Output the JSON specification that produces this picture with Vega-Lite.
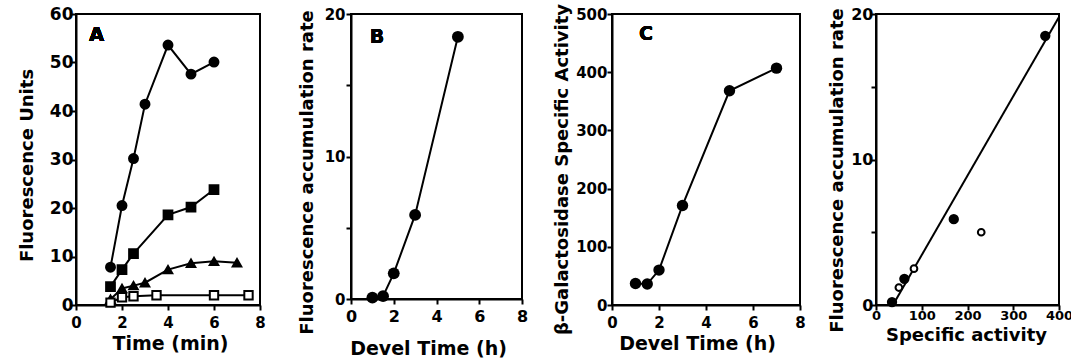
{
  "$schema": "https://vega.github.io/schema/vega-lite/v6.json",
  "padding": {"left": 17, "top": 2, "right": 0, "bottom": 2},
  "background": "white",
  "datasets": {
    "a": [
      {"s": "filled circle", "t": 1.5, "f": 7.8},
      {"s": "filled circle", "t": 2, "f": 20.5},
      {"s": "filled circle", "t": 2.5, "f": 30.2},
      {"s": "filled circle", "t": 3, "f": 41.4},
      {"s": "filled circle", "t": 4, "f": 53.6},
      {"s": "filled circle", "t": 5, "f": 47.6},
      {"s": "filled circle", "t": 6, "f": 50.1},
      {"s": "filled square", "t": 1.5, "f": 3.8},
      {"s": "filled square", "t": 2, "f": 7.3},
      {"s": "filled square", "t": 2.5, "f": 10.6},
      {"s": "filled square", "t": 4, "f": 18.6},
      {"s": "filled square", "t": 5, "f": 20.2},
      {"s": "filled square", "t": 6, "f": 23.8},
      {"s": "filled triangle", "t": 1.5, "f": 1.2},
      {"s": "filled triangle", "t": 2, "f": 3.4},
      {"s": "filled triangle", "t": 2.5, "f": 4.0},
      {"s": "filled triangle", "t": 3, "f": 4.6},
      {"s": "filled triangle", "t": 4, "f": 7.3},
      {"s": "filled triangle", "t": 5, "f": 8.6},
      {"s": "filled triangle", "t": 6, "f": 9.0},
      {"s": "filled triangle", "t": 7, "f": 8.7},
      {"s": "open square", "t": 1.5, "f": 0.5},
      {"s": "open square", "t": 2, "f": 1.6},
      {"s": "open square", "t": 2.5, "f": 1.8},
      {"s": "open square", "t": 3.5, "f": 2.0},
      {"s": "open square", "t": 6, "f": 2.0},
      {"s": "open square", "t": 7.5, "f": 2.0}
    ],
    "b": [
      {"h": 1, "rate": 0.1},
      {"h": 1.5, "rate": 0.2},
      {"h": 2, "rate": 1.8},
      {"h": 3, "rate": 5.9},
      {"h": 5, "rate": 18.4}
    ],
    "c": [
      {"h": 1, "act": 37},
      {"h": 1.5, "act": 36},
      {"h": 2, "act": 60},
      {"h": 3, "act": 171},
      {"h": 5, "act": 368},
      {"h": 7, "act": 407}
    ],
    "d": [
      {"kind": "filled", "act": 35, "rate": 0.2},
      {"kind": "filled", "act": 62, "rate": 1.8},
      {"kind": "filled", "act": 170, "rate": 5.9},
      {"kind": "filled", "act": 370, "rate": 18.5},
      {"kind": "open", "act": 50, "rate": 1.2},
      {"kind": "open", "act": 83, "rate": 2.5},
      {"kind": "open", "act": 230, "rate": 5.0}
    ],
    "dfit": [
      {"act": 37, "rate": 0},
      {"act": 400, "rate": 19.8}
    ]
  },
  "config": {
    "view": {"stroke": "black", "strokeWidth": 2},
    "axis": {
      "grid": false,
      "domainColor": "black",
      "domainWidth": 2,
      "tickColor": "black",
      "tickWidth": 2,
      "tickSize": 5,
      "labelFont": "DejaVu Sans",
      "labelFontWeight": "bold",
      "labelFontSize": 16,
      "labelColor": "black",
      "labelOverlap": false,
      "labelFlush": false,
      "titleFont": "DejaVu Sans",
      "titleFontWeight": "bold",
      "titleFontSize": 18,
      "titleColor": "black",
      "titleBaseline": "alphabetic"
    },
    "axisX": {"titleFontSize": 19}
  },
  "spacing": 0,
  "bounds": "flush",
  "resolve": {"scale": {"x": "independent", "y": "independent", "fill": "independent", "size": "independent", "shape": "independent"}},
  "hconcat": [
    {
      "width": 184,
      "height": 291,
      "data": {"name": "a"},
      "layer": [
        {
          "mark": {"type": "line", "color": "black", "strokeWidth": 2},
          "encoding": {
            "x": {"field": "t", "type": "quantitative", "scale": {"domain": [0, 8]},
              "axis": {"title": "Time (min)", "values": [0,1,2,3,4,5,6,7,8], "labelExpr": "datum.value % 2 == 0 ? datum.label : ''", "labelFontSize": 15, "labelPadding": 5, "titleX": 94, "titleY": 44}},
            "y": {"field": "f", "type": "quantitative", "scale": {"domain": [0, 60]},
              "axis": {"title": "Fluorescence Units", "values": [0,5,10,15,20,25,30,35,40,45,50,55,60], "labelExpr": "datum.value % 10 == 0 ? datum.label : ''", "labelFontSize": 17, "labelPadding": -2, "titleX": -44, "titleY": 151}},
            "detail": {"field": "s"}
          }
        },
        {
          "mark": {"type": "point", "filled": true, "stroke": "black", "strokeWidth": 2, "opacity": 1},
          "encoding": {
            "x": {"field": "t", "type": "quantitative"},
            "y": {"field": "f", "type": "quantitative"},
            "shape": {"field": "s", "type": "nominal", "legend": null,
              "scale": {"domain": ["filled circle", "filled square", "filled triangle", "open square"], "range": ["circle", "square", "triangle-up", "square"]}},
            "fill": {"field": "s", "type": "nominal", "legend": null,
              "scale": {"domain": ["filled circle", "filled square", "filled triangle", "open square"], "range": ["black", "black", "black", "white"]}},
            "size": {"field": "s", "type": "nominal", "legend": null,
              "scale": {"domain": ["filled circle", "filled square", "filled triangle", "open square"], "range": [80, 70, 115, 55]}}
          }
        },
        {
          "mark": {"type": "text", "font": "DejaVu Sans", "fontWeight": "bold", "fontSize": 19, "color": "black"},
          "encoding": {"x": {"datum": 0.9}, "y": {"datum": 55.6}, "text": {"value": "A"}}
        }
      ]
    },
    {
      "width": 91,
      "height": 291,
      "view": {"stroke": null},
      "data": {"values": []},
      "mark": {"type": "point", "opacity": 0}
    },
    {
      "width": 171,
      "height": 285,
      "data": {"name": "b"},
      "layer": [
        {
          "mark": {"type": "line", "color": "black", "strokeWidth": 2},
          "encoding": {
            "x": {"field": "h", "type": "quantitative", "scale": {"domain": [0, 8]},
              "axis": {"title": "Devel Time (h)", "values": [0,1,2,3,4,5,6,7,8], "labelExpr": "datum.value % 2 == 0 ? datum.label : ''", "labelPadding": 4, "titleX": 77, "titleY": 55}},
            "y": {"field": "rate", "type": "quantitative", "scale": {"domain": [0, 20]},
              "axis": {"title": "Fluorescence accumulation rate", "values": [0,5,10,15,20], "labelExpr": "datum.value % 10 == 0 ? datum.label : ''", "labelFontSize": 15, "labelPadding": 1, "titleX": -39, "titleY": 158}}
          }
        },
        {
          "mark": {"type": "point", "filled": true, "color": "black", "size": 140, "opacity": 1},
          "encoding": {
            "x": {"field": "h", "type": "quantitative"},
            "y": {"field": "rate", "type": "quantitative"}
          }
        },
        {
          "mark": {"type": "text", "font": "DejaVu Sans", "fontWeight": "bold", "fontSize": 19, "color": "black"},
          "encoding": {"x": {"datum": 1.22}, "y": {"datum": 18.4}, "text": {"value": "B"}}
        }
      ]
    },
    {
      "width": 90,
      "height": 291,
      "view": {"stroke": null},
      "data": {"values": []},
      "mark": {"type": "point", "opacity": 0}
    },
    {
      "width": 188,
      "height": 291,
      "data": {"name": "c"},
      "layer": [
        {
          "mark": {"type": "line", "color": "black", "strokeWidth": 2},
          "encoding": {
            "x": {"field": "h", "type": "quantitative", "scale": {"domain": [0, 8]},
              "axis": {"title": "Devel Time (h)", "values": [0,1,2,3,4,5,6,7,8], "labelExpr": "datum.value % 2 == 0 ? datum.label : ''", "labelFontSize": 15, "labelPadding": 5, "titleX": 85, "titleY": 44}},
            "y": {"field": "act", "type": "quantitative", "scale": {"domain": [0, 500]},
              "axis": {"title": "β-Galactosidase Specific Activity", "values": [0,50,100,150,200,250,300,350,400,450,500], "labelExpr": "datum.value % 100 == 0 ? datum.label : ''", "labelFontSize": 15, "labelPadding": 0, "titleX": -45, "titleY": 155}}
          }
        },
        {
          "mark": {"type": "point", "filled": true, "color": "black", "size": 130, "opacity": 1},
          "encoding": {
            "x": {"field": "h", "type": "quantitative"},
            "y": {"field": "act", "type": "quantitative"}
          }
        },
        {
          "mark": {"type": "text", "font": "DejaVu Sans", "fontWeight": "bold", "fontSize": 19, "color": "black"},
          "encoding": {"x": {"datum": 1.45}, "y": {"datum": 466}, "text": {"value": "C"}}
        }
      ]
    },
    {
      "width": 76,
      "height": 291,
      "view": {"stroke": null},
      "data": {"values": []},
      "mark": {"type": "point", "opacity": 0}
    },
    {
      "width": 183,
      "height": 291,
      "layer": [
        {
          "data": {"name": "dfit"},
          "mark": {"type": "line", "color": "black", "strokeWidth": 2},
          "encoding": {
            "x": {"field": "act", "type": "quantitative", "scale": {"domain": [0, 400]},
              "axis": {"title": "Specific activity", "values": [0,50,100,150,200,250,300,350,400], "labelExpr": "datum.value % 100 == 0 ? datum.label : ''", "labelFontSize": 13, "labelPadding": -1, "titleFontSize": 18, "titleX": 90, "titleY": 35}},
            "y": {"field": "rate", "type": "quantitative", "scale": {"domain": [0, 20]},
              "axis": {"title": "Fluorescence accumulation rate", "values": [0,5,10,15,20], "labelExpr": "datum.value % 10 == 0 ? datum.label : ''", "labelFontSize": 16, "labelPadding": -2, "titleX": -34, "titleY": 156}}
          }
        },
        {
          "data": {"name": "d"},
          "mark": {"type": "point", "filled": true, "stroke": "black", "strokeWidth": 2, "opacity": 1},
          "encoding": {
            "x": {"field": "act", "type": "quantitative"},
            "y": {"field": "rate", "type": "quantitative"},
            "fill": {"field": "kind", "type": "nominal", "legend": null,
              "scale": {"domain": ["filled", "open"], "range": ["black", "white"]}},
            "size": {"field": "kind", "type": "nominal", "legend": null,
              "scale": {"domain": ["filled", "open"], "range": [70, 45]}}
          }
        },
        {
          "mark": {"type": "text", "font": "DejaVu Sans", "fontWeight": "bold", "fontSize": 19, "color": "black"},
          "encoding": {"x": {"datum": 68}, "y": {"datum": 18.6}, "text": {"value": "D"}}
        }
      ]
    }
  ]
}
